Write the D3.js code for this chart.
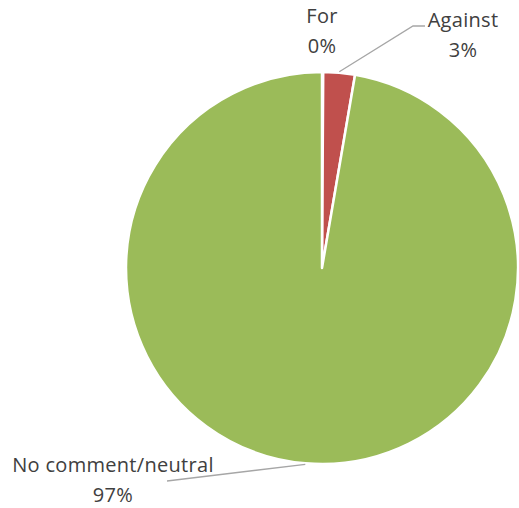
<!DOCTYPE html>
<html><head><meta charset="utf-8">
<script src="https://cdn.jsdelivr.net/npm/d3@7"></script>
<style>body{margin:0;background:#fff}svg{display:block}</style>
</head><body>
<svg id="c" width="519" height="508"></svg>
<script>
const categories = ["For", "Against", "No comment/neutral"];
const values = [0.1, 2.6, 97.3];
const valueLabels = ["0%", "3%", "97%"];
const colors = ["#4F81BD", "#C0504D", "#9BBB59"];

const svg = d3.select("#c");
const cx = 322, cy = 268, r = 196;
const g = svg.append("g").attr("transform", `translate(${cx},${cy})`);
const pie = d3.pie().sort(null).value(d => d)(values);
const arc = d3.arc().innerRadius(0).outerRadius(r);
g.selectAll("path").data(pie).enter().append("path")
  .attr("d", arc).attr("fill", (d, i) => colors[i])
  .attr("stroke", "#fff").attr("stroke-width", 2.5).attr("stroke-linejoin", "round");

const labelPos = [
  {x: 322, y: 23, lines: [categories[0], valueLabels[0]]},
  {x: 463, y: 27, lines: [categories[1], valueLabels[1]]},
  {x: 113, y: 472, lines: [categories[2], valueLabels[2]]}
];
const leaders = [
  null,
  {angleFrac: 0.5, pts: [[413, 26], [425, 26]]},
  {angleFrac: 0.5, pts: [[167, 481]]}
];
leaders.forEach((l, i) => {
  if (!l) return;
  const d = pie[i];
  const a = d.startAngle + (d.endAngle - d.startAngle) * l.angleFrac;
  const p0 = [cx + Math.sin(a) * (r + 1), cy - Math.cos(a) * (r + 1)];
  svg.append("path").attr("d", d3.line()([p0, ...l.pts]))
    .attr("fill", "none").attr("stroke", "#a6a6a6").attr("stroke-width", 1.3);
});
labelPos.forEach(lp => {
  const t = svg.append("text").attr("text-anchor", "middle")
    .attr("font-family", "'Open Sans', sans-serif").attr("font-size", 20)
    .attr("letter-spacing", 0.3).attr("fill", "#404040");
  lp.lines.forEach((s, j) => t.append("tspan").attr("x", lp.x).attr("y", lp.y + j * 30).text(s));
});
</script>
</body></html>
